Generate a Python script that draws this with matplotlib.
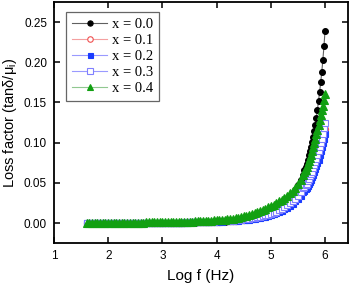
import matplotlib
matplotlib.use('Agg')
import matplotlib.pyplot as plt

#---------------------------------------------------------------- DATA

log_f = [1.60, 1.65, 1.70, 1.75, 1.80, 1.85, 1.90, 1.95,
         2.00, 2.05, 2.10, 2.15, 2.20, 2.25, 2.30, 2.35, 2.40, 2.45,
         2.50, 2.55, 2.60, 2.65, 2.70, 2.75, 2.80, 2.85, 2.90, 2.95,
         3.00, 3.05, 3.10, 3.15, 3.20, 3.25, 3.30, 3.35, 3.40, 3.45,
         3.50, 3.55, 3.60, 3.65, 3.70, 3.75, 3.80, 3.85, 3.90, 3.95,
         4.00, 4.05, 4.10, 4.15, 4.20, 4.25, 4.30, 4.35, 4.40, 4.45,
         4.50, 4.55, 4.60, 4.65, 4.70, 4.75, 4.80, 4.85, 4.90, 4.95,
         5.00, 5.05, 5.10, 5.15, 5.20, 5.25, 5.30, 5.35, 5.40, 5.45,
         5.50, 5.55, 5.60,
         5.62, 5.64, 5.66, 5.68, 5.70, 5.72, 5.74, 5.76, 5.78, 5.80,
         5.82, 5.84, 5.86, 5.88, 5.90, 5.92, 5.94, 5.96, 5.98, 6.00]

loss_x00 = [0.0000, 0.0000, 0.0000, 0.0000, 0.0000, 0.0000, 0.0000, 0.0000,
            0.0001, 0.0001, 0.0001, 0.0001, 0.0001, 0.0001, 0.0001, 0.0001, 0.0001, 0.0001,
            0.0001, 0.0001, 0.0001, 0.0001, 0.0002, 0.0002, 0.0002, 0.0002, 0.0002, 0.0002,
            0.0002, 0.0002, 0.0002, 0.0003, 0.0003, 0.0003, 0.0003, 0.0004, 0.0004, 0.0005,
            0.0005, 0.0006, 0.0006, 0.0007, 0.0007, 0.0008, 0.0009, 0.0010, 0.0011, 0.0012,
            0.0013, 0.0014, 0.0016, 0.0018, 0.0020, 0.0022, 0.0025, 0.0028, 0.0031, 0.0035,
            0.0039, 0.0044, 0.0050, 0.0056, 0.0063, 0.0071, 0.0080, 0.0090, 0.0101, 0.0113,
            0.0130, 0.0150, 0.0170, 0.0190, 0.0220, 0.0250, 0.0280, 0.0320, 0.0360, 0.0410,
            0.0470, 0.0530, 0.0600,
            0.0660, 0.0700, 0.0740, 0.0790, 0.0840, 0.0890, 0.0950, 0.1010, 0.1070, 0.1140,
            0.1220, 0.1310, 0.1410, 0.1520, 0.1630, 0.1750, 0.1880, 0.2030, 0.2200, 0.2390]

loss_x01 = [0.0000, 0.0000, 0.0000, 0.0000, 0.0000, 0.0000, 0.0000, 0.0000,
            0.0001, 0.0001, 0.0001, 0.0001, 0.0001, 0.0001, 0.0001, 0.0001, 0.0001, 0.0001,
            0.0002, 0.0002, 0.0002, 0.0002, 0.0002, 0.0002, 0.0002, 0.0003, 0.0003, 0.0003,
            0.0003, 0.0004, 0.0004, 0.0004, 0.0005, 0.0005, 0.0005, 0.0006, 0.0006, 0.0007,
            0.0007, 0.0008, 0.0008, 0.0009, 0.0010, 0.0011, 0.0012, 0.0013, 0.0014, 0.0015,
            0.0017, 0.0018, 0.0020, 0.0022, 0.0024, 0.0026, 0.0028, 0.0031, 0.0034, 0.0037,
            0.0040, 0.0044, 0.0048, 0.0053, 0.0058, 0.0064, 0.0071, 0.0078, 0.0086, 0.0095,
            0.0105, 0.0117, 0.0130, 0.0145, 0.0160, 0.0180, 0.0200, 0.0230, 0.0250, 0.0280,
            0.0310, 0.0350, 0.0400,
            0.0420, 0.0440, 0.0460, 0.0480, 0.0510, 0.0540, 0.0570, 0.0600, 0.0630, 0.0670,
            0.0700, 0.0740, 0.0780, 0.0830, 0.0880, 0.0930, 0.0980, 0.1040, 0.1100, 0.1170]

loss_x02 = [0.0000, 0.0000, 0.0000, 0.0000, 0.0000, 0.0000, 0.0000, 0.0000,
            0.0001, 0.0001, 0.0001, 0.0001, 0.0001, 0.0001, 0.0001, 0.0001, 0.0001, 0.0001,
            0.0001, 0.0002, 0.0002, 0.0002, 0.0002, 0.0002, 0.0002, 0.0002, 0.0002, 0.0003,
            0.0003, 0.0003, 0.0003, 0.0004, 0.0004, 0.0004, 0.0005, 0.0005, 0.0006, 0.0006,
            0.0007, 0.0007, 0.0008, 0.0008, 0.0009, 0.0010, 0.0011, 0.0011, 0.0012, 0.0013,
            0.0015, 0.0016, 0.0018, 0.0019, 0.0021, 0.0023, 0.0025, 0.0027, 0.0030, 0.0033,
            0.0036, 0.0039, 0.0043, 0.0047, 0.0052, 0.0058, 0.0064, 0.0071, 0.0078, 0.0086,
            0.0095, 0.0107, 0.0120, 0.0135, 0.0150, 0.0170, 0.0190, 0.0215, 0.0240, 0.0270,
            0.0300, 0.0340, 0.0380,
            0.0400, 0.0420, 0.0440, 0.0460, 0.0490, 0.0510, 0.0540, 0.0570, 0.0600, 0.0640,
            0.0670, 0.0710, 0.0750, 0.0790, 0.0840, 0.0890, 0.0940, 0.0990, 0.1050, 0.1110]

loss_x03 = [0.0001, 0.0001, 0.0001, 0.0001, 0.0001, 0.0001, 0.0001, 0.0001,
            0.0001, 0.0001, 0.0001, 0.0002, 0.0002, 0.0002, 0.0002, 0.0002, 0.0002, 0.0002,
            0.0002, 0.0002, 0.0003, 0.0003, 0.0003, 0.0003, 0.0003, 0.0003, 0.0003, 0.0004,
            0.0004, 0.0004, 0.0004, 0.0005, 0.0005, 0.0005, 0.0006, 0.0006, 0.0007, 0.0007,
            0.0008, 0.0009, 0.0009, 0.0010, 0.0011, 0.0012, 0.0013, 0.0014, 0.0015, 0.0017,
            0.0019, 0.0020, 0.0022, 0.0024, 0.0026, 0.0028, 0.0031, 0.0034, 0.0037, 0.0040,
            0.0044, 0.0048, 0.0053, 0.0058, 0.0064, 0.0071, 0.0078, 0.0086, 0.0095, 0.0105,
            0.0115, 0.0127, 0.0140, 0.0160, 0.0180, 0.0200, 0.0220, 0.0245, 0.0270, 0.0300,
            0.0340, 0.0380, 0.0430,
            0.0450, 0.0470, 0.0490, 0.0520, 0.0550, 0.0580, 0.0610, 0.0640, 0.0680, 0.0720,
            0.0760, 0.0800, 0.0840, 0.0890, 0.0940, 0.0990, 0.1050, 0.1110, 0.1180, 0.1250]

loss_x04 = [0.0002, 0.0002, 0.0002, 0.0002, 0.0003, 0.0003, 0.0003, 0.0003,
            0.0003, 0.0003, 0.0004, 0.0004, 0.0004, 0.0004, 0.0005, 0.0005, 0.0005, 0.0005,
            0.0006, 0.0006, 0.0006, 0.0006, 0.0007, 0.0007, 0.0007, 0.0007, 0.0008, 0.0008,
            0.0008, 0.0009, 0.0009, 0.0010, 0.0010, 0.0011, 0.0012, 0.0013, 0.0014, 0.0015,
            0.0016, 0.0017, 0.0019, 0.0020, 0.0022, 0.0024, 0.0026, 0.0028, 0.0030, 0.0032,
            0.0035, 0.0037, 0.0040, 0.0043, 0.0047, 0.0051, 0.0055, 0.0060, 0.0065, 0.0075,
            0.0085, 0.0092, 0.0100, 0.0110, 0.0120, 0.0135, 0.0150, 0.0165, 0.0180, 0.0195,
            0.0210, 0.0230, 0.0250, 0.0270, 0.0290, 0.0315, 0.0340, 0.0370, 0.0400, 0.0440,
            0.0480, 0.0540, 0.0600,
            0.0630, 0.0660, 0.0700, 0.0730, 0.0770, 0.0810, 0.0850, 0.0900, 0.0950, 0.1000,
            0.1050, 0.1110, 0.1160, 0.1220, 0.1280, 0.1340, 0.1400, 0.1460, 0.1530, 0.1600]

labels = ['x = 0.0', 'x = 0.1', 'x = 0.2', 'x = 0.3', 'x = 0.4']

#---------------------------------------------------------------- PLOT

plt.rcParams['font.family'] = ['Liberation Sans', 'DejaVu Sans']

fig = plt.figure(figsize=(3.54, 2.84), dpi=100)
ax = fig.add_axes([0.1525, 0.144, 0.83, 0.849])

# (values, line colour, marker, marker face, marker edge, marker size)
styles = [
    (loss_x00, '#606060', 'o', '#000000', '#000000', 4.2),
    (loss_x01, '#f4a0a0', 'o', 'white', '#f05050', 4.4),
    (loss_x02, '#9a9aff', 's', '#1a3cff', '#1a3cff', 4.0),
    (loss_x03, '#9a9aff', 's', 'white', '#8080ff', 4.3),
    (loss_x04, '#90c890', '^', '#12a012', '#12a012', 5.4),
]

for (vals, lc, mk, mfc, mec, ms), lab in zip(styles, labels):
    ax.plot(log_f, vals, '-', color=lc, lw=0.8, marker=mk, markersize=ms,
            markerfacecolor=mfc, markeredgecolor=mec, markeredgewidth=0.8,
            label=lab)

ax.set_xlim(1, 6.42)
ax.set_ylim(-0.025, 0.275)
ax.set_xticks([1, 2, 3, 4, 5, 6])
ax.set_yticks([0.00, 0.05, 0.10, 0.15, 0.20, 0.25])
ax.set_yticklabels(['0.00', '0.05', '0.10', '0.15', '0.20', '0.25'])

ax.tick_params(direction='in', top=True, right=True, length=4, width=1.1,
               labelsize=8.5, pad=5)
for sp in ax.spines.values():
    sp.set_linewidth(1.3)

ax.set_xlabel('Log f (Hz)', fontsize=11, labelpad=5)
ax.set_ylabel('Loss factor (tan\u03b4/\u03bc$_\\mathregular{i}$)', fontsize=10.5, labelpad=4)
ax.yaxis.set_label_coords(-0.12, 0.5)

leg = ax.legend(loc='upper left', bbox_to_anchor=(0.04, 0.96),
                prop={'family': 'Liberation Serif', 'size': 10.5},
                frameon=True, fancybox=False, edgecolor='#404040',
                handlelength=2.4, labelspacing=0.18, handletextpad=0.3,
                borderpad=0.45, borderaxespad=0, markerscale=0.9)
leg.get_frame().set_linewidth(0.9)

fig.savefig('out.png', dpi=100)
